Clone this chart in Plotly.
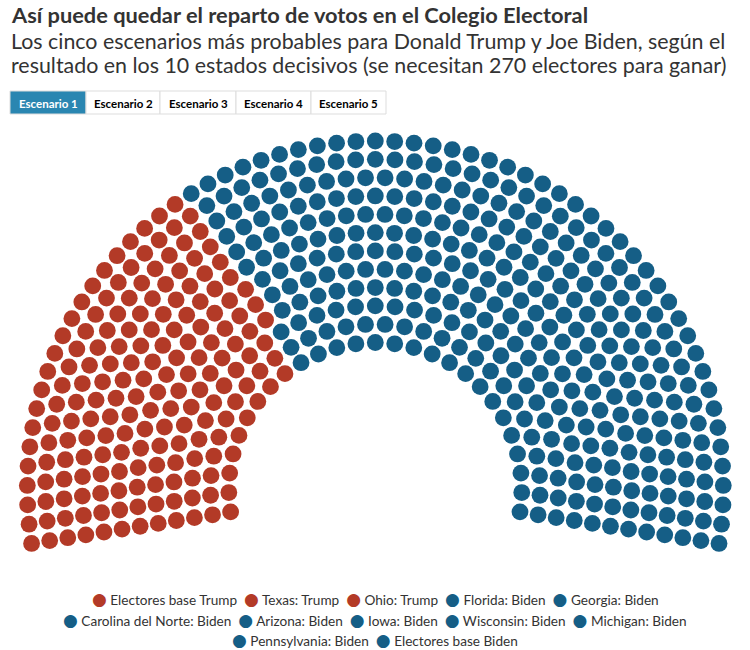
import math
import plotly.graph_objects as go

# ---------------- data ----------------
series_names = [
    "Electores base Trump", "Texas: Trump", "Ohio: Trump",
    "Florida: Biden", "Georgia: Biden", "Carolina del Norte: Biden",
    "Arizona: Biden", "Iowa: Biden", "Wisconsin: Biden",
    "Michigan: Biden", "Pennsylvania: Biden", "Electores base Biden",
]
electors = [127, 38, 18, 29, 16, 15, 11, 6, 10, 16, 20, 232]
winner = ["Trump", "Trump", "Trump", "Biden", "Biden", "Biden",
          "Biden", "Biden", "Biden", "Biden", "Biden", "Biden"]
scenarios = ["Escenario 1", "Escenario 2", "Escenario 3", "Escenario 4", "Escenario 5"]
active_scenario = 0

title = "Así puede quedar el reparto de votos en el Colegio Electoral"
subtitle_lines = [
    "Los cinco escenarios más probables para Donald Trump y Joe Biden, según el",
    "resultado en los 10 estados decisivos (se necesitan 270 electores para ganar)",
]
legend_rows = [[0, 1, 2, 3, 4], [5, 6, 7, 8, 9], [10, 11]]

# ---------------- style ----------------
party_color = {"Trump": "#b33a27", "Biden": "#155e86"}
TEXT = "#333333"
FONT = "Lato, 'Open Sans', sans-serif"
W, H = 750, 650

# parliament geometry (pixels)
CX, CY = 375.3, 489.0
R_OUT, R_IN = 348.0, 146.5
N_ROWS = 12
OVER_DEG = 9.0  # arc goes this far below horizontal on each side
DOT = 16.8

# ---------------- item (parliament) layout, Highcharts-like ----------------
full = math.radians(180 + 2 * OVER_DEG)
a0 = math.radians(180 + OVER_DEG)
radii = [R_IN + k * (R_OUT - R_IN) / (N_ROWS - 1) for k in range(N_ROWS)][::-1]
rowlen = [full * r for r in radii]
total = sum(electors)

s = 8.0
prev_cols, prev_n = None, None
while True:
    cols = [math.ceil(L / s) for L in rowlen]
    n = sum(c + 1 for c in cols)
    if n <= total:
        break
    prev_cols, prev_n = cols, n
    s += 0.02
cols = list(prev_cols)
overshoot = prev_n - total
while overshoot > 0:
    order = sorted(range(N_ROWS), key=lambda i: -cols[i] / rowlen[i])
    for i in order[:min(overshoot, math.ceil(N_ROWS / 2))]:
        if overshoot > 0:
            cols[i] -= 1
            overshoot -= 1

slots = []
for i, r in enumerate(radii):
    inc = full / cols[i]
    for c in range(cols[i] + 1):
        ang = a0 - c * inc
        slots.append((-ang, CX + r * math.cos(ang), CY - r * math.sin(ang)))
slots.sort(key=lambda t: t[0])

fig = go.Figure()
idx = 0
for name, n, w in zip(series_names, electors, winner):
    pts = slots[idx: idx + n]
    idx += n
    fig.add_trace(go.Scatter(
        x=[p[1] for p in pts], y=[p[2] for p in pts],
        mode="markers", name=name, showlegend=False,
        marker=dict(size=DOT, color=party_color[w], line=dict(width=0)),
        hovertemplate=name + ": %{text}<extra></extra>",
        text=[str(n)] * len(pts),
    ))

annotations = []
shapes = []

# title + subtitle
annotations.append(dict(x=9, y=14, xref="x", yref="y", xanchor="left", yanchor="middle",
                        text="<b>" + title + "</b>", showarrow=False,
                        font=dict(family=FONT, size=21.8, color=TEXT)))
for k, line in enumerate(subtitle_lines):
    annotations.append(dict(x=9, y=41 + 23.5 * k, xref="x", yref="y", xanchor="left",
                            yanchor="middle", text=line, showarrow=False,
                            font=dict(family=FONT, size=21.4, color=TEXT)))

# scenario buttons
btn_x = [10, 86, 160, 236, 311, 386]
by0, by1 = 91, 114
for k, lab in enumerate(scenarios):
    act = k == active_scenario
    shapes.append(dict(type="rect", xref="x", yref="y", x0=btn_x[k], x1=btn_x[k + 1],
                       y0=by0, y1=by1, line=dict(color="#dddddd", width=1),
                       fillcolor="#2a86b1" if act else "#ffffff", layer="above"))
    annotations.append(dict(x=(btn_x[k] + btn_x[k + 1]) / 2, y=(by0 + by1) / 2 + 0.5,
                            xref="x", yref="y", text="<b>" + lab + "</b>", showarrow=False,
                            font=dict(family=FONT, size=11.5,
                                      color="#ffffff" if act else "#000000")))

# legend rows
NB = "\u00a0"
for r, row in enumerate(legend_rows):
    parts = []
    for i in row:
        c = party_color[winner[i]]
        parts.append(f"<span style='color:{c};font-size:17px;font-family:DejaVu Sans'>●</span>"
                     + NB + series_names[i])
    annotations.append(dict(x=375, y=599 + 20.5 * r, xref="x", yref="y",
                            xanchor="center", yanchor="middle",
                            text=(NB * 2).join(parts), showarrow=False,
                            font=dict(family=FONT, size=13.6, color=TEXT)))

fig.update_layout(
    width=W, height=H,
    margin=dict(l=0, r=0, t=0, b=0),
    paper_bgcolor="white", plot_bgcolor="white",
    xaxis=dict(range=[0, W], visible=False, fixedrange=True),
    yaxis=dict(range=[H, 0], visible=False, fixedrange=True),
    annotations=annotations, shapes=shapes,
    showlegend=False,
    hoverlabel=dict(font=dict(family=FONT)),
)
fig.write_html("out.html")
